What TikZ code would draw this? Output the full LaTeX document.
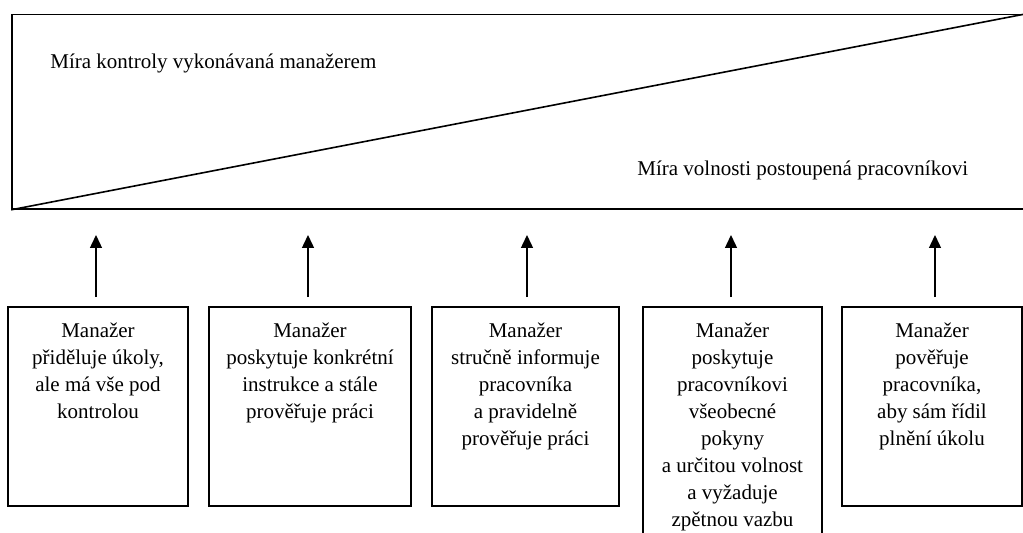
\documentclass[tikz,border=0pt]{standalone}
\usepackage{fontspec}
\setmainfont{Liberation Serif}
\usetikzlibrary{arrows.meta}
\begin{document}
\begin{tikzpicture}[x=0.5pt,y=-0.5pt,
  frame/.style={draw, line width=0.8pt, inner sep=0pt},
  box/.style={frame, minimum width=#1, minimum height=99.5pt},
  btxt/.style={anchor=north, inner sep=0pt, align=center, font=\fontsize{10.5pt}{13.5pt}\selectfont},
  lbl/.style={anchor=base west, inner sep=0pt, font=\fontsize{10.5pt}{13.5pt}\selectfont},
  arr/.style={-{Triangle[length=6.5pt,width=6pt]}, line width=0.7pt, shorten <=4.5pt}]
\useasboundingbox (0,0) rectangle (1023,533);
\clip (0,0) rectangle (1023,533);
% top panel
\node[frame, minimum width=507pt, minimum height=97.25pt] (top) at (519,111.75) {};
\draw[line width=0.8pt] (top.south west) -- (top.north east);
\node[lbl] (l1) at (50,69) {Míra kontroly vykonávaná manažerem};
\node[lbl] (l2) at (637,176) {Míra volnosti postoupená pracovníkovi};
% boxes
\node[box=90pt] (b1) at (98,406.5) {};
\node[box=101pt] (b2) at (310,406.5) {};
\node[box=93.5pt] (b3) at (525.5,406.5) {};
\node[frame, minimum width=89.5pt, minimum height=119pt] (b4) at (732.5,426) {};
\node[box=90pt] (b5) at (932,406.5) {};
% texts
\node[btxt] (t1) at (98,322) {Manažer\\přiděluje úkoly,\\ale má vše pod\\kontrolou};
\node[btxt] (t2) at (310,322) {Manažer\\poskytuje konkrétní\\instrukce a stále\\prověřuje práci};
\node[btxt] (t3) at (525.5,322) {Manažer\\stručně informuje\\pracovníka\\a pravidelně\\prověřuje práci};
\node[btxt] (t4) at (732.5,322) {Manažer\\poskytuje\\pracovníkovi\\všeobecné\\pokyny\\a určitou volnost\\a vyžaduje\\zpětnou vazbu};
\node[btxt] (t5) at (932,322) {Manažer\\pověřuje\\pracovníka,\\aby sám řídil\\plnění úkolu};
% arrows
\coordinate (a1) at (96,235);
\coordinate (a2) at (308,235);
\coordinate (a3) at (527,235);
\coordinate (a4) at (731,235);
\coordinate (a5) at (935,235);
\draw[arr] (b1.north -| a1) -- (a1);
\draw[arr] (b2.north -| a2) -- (a2);
\draw[arr] (b3.north -| a3) -- (a3);
\draw[arr] (b4.north -| a4) -- (a4);
\draw[arr] (b5.north -| a5) -- (a5);
\end{tikzpicture}
\end{document}
